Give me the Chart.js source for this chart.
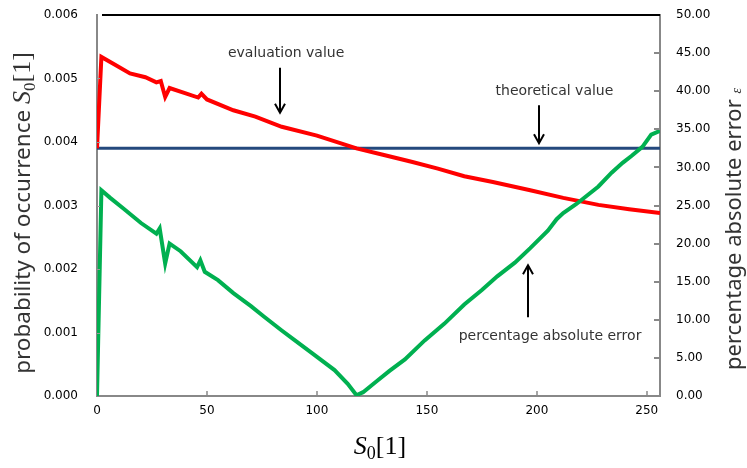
<!DOCTYPE html>
<html lang="en">
<head>
<meta charset="UTF-8">
<title>probability of occurrence S0[1]</title>
<script src="https://cdn.jsdelivr.net/npm/chart.js"></script>
<style>
  html, body { margin: 0; padding: 0; background: #fff; }
</style>
</head>
<body>
<canvas id="chart" width="747" height="468"></canvas>
<script>
// evaluation value (left axis)
const evalX = [0, 2, 8, 15, 22, 27, 29, 31, 33, 40, 46, 47.5, 50, 62, 72, 84, 100, 118, 130, 143, 155, 167, 180, 197, 212, 228, 242, 256];
const evalY = [0.00390, 0.00534, 0.00522, 0.00508, 0.00502, 0.00494, 0.00496, 0.00471, 0.00485, 0.00477, 0.00470, 0.00476, 0.00467,
               0.00450, 0.00440, 0.00424, 0.00410, 0.00390, 0.00380, 0.00369, 0.00358, 0.00346, 0.00337, 0.00324, 0.00312,
               0.00301, 0.00294, 0.00288];

// theoretical value (left axis)
const theoryX = [0, 256];
const theoryY = [0.00390, 0.00390];

// percentage absolute error (right axis)
const errX = [0, 2, 6, 12, 20, 27, 28.5, 31, 33, 38, 45.5, 47, 49, 55, 62, 70, 76, 84, 90, 97, 108, 114, 118, 121, 127,
              133, 140, 149, 158, 167, 175, 182, 190, 197, 205, 209, 212, 218, 228, 234, 239, 243, 248, 252, 256];
const errY = [0, 27.0, 26.0, 24.6, 22.7, 21.3, 22.0, 17.4, 20.0, 19.0, 16.9, 17.8, 16.3, 15.2, 13.5, 11.8, 10.4, 8.6, 7.3,
              5.8, 3.4, 1.6, 0.1, 0.5, 1.9, 3.3, 4.8, 7.3, 9.5, 12.0, 13.9, 15.7, 17.5, 19.4, 21.7, 23.2, 24.0, 25.2,
              27.5, 29.3, 30.6, 31.5, 32.7, 34.3, 34.8];

const xTicks = [0, 50, 100, 150, 200, 250];
const leftTicks = [0, 0.001, 0.002, 0.003, 0.004, 0.005, 0.006];
const rightTicks = [0, 5, 10, 15, 20, 25, 30, 35, 40, 45, 50];

const toPts = (xs, ys) => xs.map((x, i) => ({ x: x, y: ys[i] }));

function richText(ctx, parts, cx, cy, rot) {
    ctx.save();
    ctx.translate(cx, cy);
    ctx.rotate(rot);
    ctx.textBaseline = 'alphabetic';
    ctx.textAlign = 'left';
    let total = 0;
    parts.forEach(p => { ctx.font = p.f; p.w = ctx.measureText(p.t).width; total += p.w; });
    let x = -total / 2;
    parts.forEach(p => {
        ctx.font = p.f;
        ctx.fillStyle = p.c || '#333';
        ctx.fillText(p.t, x, p.dy || 0);
        x += p.w;
    });
    ctx.restore();
}

function arrow(ctx, x, y1, y2) {
    // from y1 to y2, head at y2
    const d = y2 > y1 ? -1 : 1;
    ctx.beginPath();
    ctx.moveTo(x, y1);
    ctx.lineTo(x, y2);
    ctx.moveTo(x - 5, y2 + d * 9);
    ctx.lineTo(x, y2);
    ctx.lineTo(x + 5, y2 + d * 9);
    ctx.stroke();
}

const decor = {
    id: 'decor',
    afterDraw(chart) {
        const ctx = chart.ctx;
        const a = chart.chartArea;
        const sx = chart.scales.x, sy = chart.scales.y, sr = chart.scales.yR;

        ctx.save();
        // top frame line
        ctx.strokeStyle = '#000';
        ctx.lineWidth = 2;
        ctx.beginPath();
        ctx.moveTo(a.left + 5, a.top);
        ctx.lineTo(a.right, a.top);
        ctx.stroke();

        // inward tick marks
        ctx.strokeStyle = '#999';
        ctx.lineWidth = 1;
        leftTicks.slice(1, -1).forEach(v => {
            const y = Math.round(sy.getPixelForValue(v)) + 0.5;
            ctx.beginPath(); ctx.moveTo(a.left, y); ctx.lineTo(a.left + 3, y); ctx.stroke();
        });
        ctx.strokeStyle = '#888';
        ctx.lineWidth = 2;
        rightTicks.slice(1, -1).forEach(v => {
            const y = Math.round(sr.getPixelForValue(v));
            ctx.beginPath(); ctx.moveTo(a.right - 6, y); ctx.lineTo(a.right, y); ctx.stroke();
        });
        ctx.lineWidth = 1.5;
        xTicks.slice(1).forEach(v => {
            const x = Math.round(sx.getPixelForValue(v));
            ctx.beginPath(); ctx.moveTo(x, a.bottom); ctx.lineTo(x, a.bottom - 5); ctx.stroke();
        });

        // annotations
        ctx.fillStyle = '#333';
        ctx.font = '14px "DejaVu Sans"';
        ctx.textAlign = 'center';
        ctx.textBaseline = 'middle';
        ctx.fillText('evaluation value', sx.getPixelForValue(86), sy.getPixelForValue(0.0054));
        ctx.fillText('theoretical value', sx.getPixelForValue(208), sy.getPixelForValue(0.0048));
        ctx.fillText('percentage absolute error', sx.getPixelForValue(206), sy.getPixelForValue(0.00094));
        ctx.strokeStyle = '#000';
        ctx.lineWidth = 2;
        arrow(ctx, Math.round(sx.getPixelForValue(83)), sy.getPixelForValue(0.00517), sy.getPixelForValue(0.00446));
        arrow(ctx, Math.round(sx.getPixelForValue(201)), sy.getPixelForValue(0.00458), sy.getPixelForValue(0.00398));
        arrow(ctx, Math.round(sx.getPixelForValue(196)), sy.getPixelForValue(0.00124), sy.getPixelForValue(0.00206));

        // axis titles
        richText(ctx, [
            { t: 'probability of occurrence ', f: '22.5px "Noto Sans"' },
            { t: 'S', f: 'italic 26px "Liberation Serif"' },
            { t: '0', f: '17px "Liberation Serif"', dy: 5 },
            { t: '[1]', f: '26px "Liberation Serif"' }
        ], 30, 213, -Math.PI / 2);
        richText(ctx, [
            { t: 'percentage absolute error ', f: '22px "Noto Sans"' },
            { t: 'ε', f: 'italic 14px "Liberation Serif"' }
        ], 741, 229, -Math.PI / 2);
        richText(ctx, [
            { t: 'S', f: 'italic 26px "Liberation Serif"', c: '#000' },
            { t: '0', f: '18px "Liberation Serif"', dy: 5, c: '#000' },
            { t: '[1]', f: '26px "Liberation Serif"', c: '#000' }
        ], 380, 454, 0);
        ctx.restore();
    }
};

const tickFont = { family: 'DejaVu Sans', size: 12 };

function fitV(w) {
    return s => { s.width = w; s.paddingTop = 0; s.paddingBottom = 0; };
}

new Chart(document.getElementById('chart').getContext('2d'), {
    type: 'line',
    data: {
        datasets: [
            { label: 'percentage absolute error', data: toPts(errX, errY), yAxisID: 'yR',
              borderColor: '#00b050', borderWidth: 4, pointRadius: 0, tension: 0 },
            { label: 'evaluation value', data: toPts(evalX, evalY), yAxisID: 'y',
              borderColor: '#ff0000', borderWidth: 4, pointRadius: 0, tension: 0 },
            { label: 'theoretical value', data: toPts(theoryX, theoryY), yAxisID: 'y',
              borderColor: '#24497d', borderWidth: 3, pointRadius: 0, tension: 0 }
        ]
    },
    options: {
        responsive: false,
        animation: false,
        layout: { padding: { top: 15, left: 0, right: 0, bottom: 0 } },
        plugins: { legend: { display: false }, tooltip: { enabled: false } },
        scales: {
            x: {
                type: 'linear', position: 'bottom', min: 0, max: 256,
                afterBuildTicks: s => { s.ticks = xTicks.map(v => ({ value: v })); },
                afterFit: s => { s.height = 72; s.paddingLeft = 0; s.paddingRight = 0; },
                ticks: { font: tickFont, color: '#000', padding: 8, maxRotation: 0 },
                grid: { display: false, drawTicks: false },
                border: { color: '#888', width: 2 }
            },
            y: {
                position: 'left', min: 0, max: 0.006,
                afterBuildTicks: s => { s.ticks = leftTicks.map(v => ({ value: v })); },
                afterFit: fitV(97),
                ticks: { font: tickFont, color: '#000', padding: 19, callback: v => v.toFixed(3) },
                grid: { display: false, drawTicks: false },
                border: { color: '#888', width: 2 }
            },
            yR: {
                position: 'right', min: 0, max: 50,
                afterBuildTicks: s => { s.ticks = rightTicks.map(v => ({ value: v })); },
                afterFit: fitV(87),
                ticks: { font: tickFont, color: '#000', padding: 16, callback: v => v.toFixed(2) },
                grid: { display: false, drawTicks: false },
                border: { color: '#888', width: 2 }
            }
        }
    },
    plugins: [decor]
});
</script>
</body>
</html>
